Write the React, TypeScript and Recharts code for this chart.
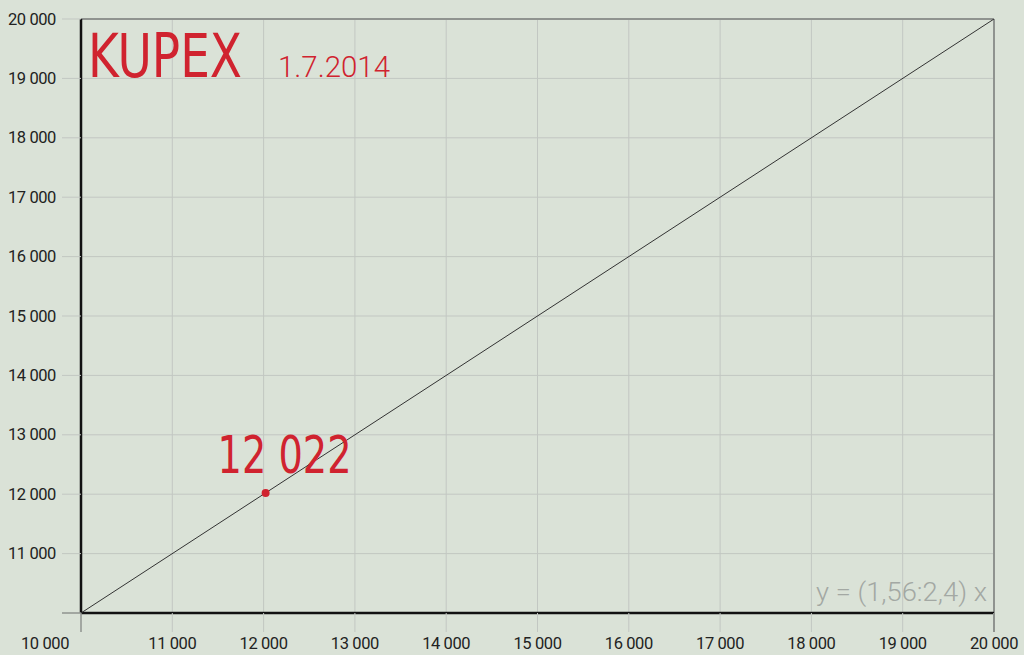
import React from "react";
import {
  ComposedChart,
  Line,
  XAxis,
  YAxis,
  CartesianGrid,
  ReferenceLine,
  ReferenceDot,
  Customized,
} from "recharts";

// ---- data ----
const xTicks = [10000, 11000, 12000, 13000, 14000, 15000, 16000, 17000, 18000, 19000, 20000];
const yTicks = [10000, 11000, 12000, 13000, 14000, 15000, 16000, 17000, 18000, 19000, 20000];
const lineX = [10000, 20000];
const lineY = [10000, 20000];
const pointX = 12022;
const pointY = 12022;
const pointLabel = "12 022";
const titleText = "KUPEX";
const dateText = "1.7.2014";
const formulaText = "y = (1,56:2,4) x";

const lineData = lineX.map((x, i) => ({ x, y: lineY[i] }));

const BG = "#dae2d7";
const RED = "#d0232f";
const GRID = "#c2c7c2";
const DARK_GRID = "#8f938f";
const TICK_FONT = "Roboto, 'Noto Sans', sans-serif";

const fmt = (v: number) => String(v).replace(/\B(?=(\d{3})+(?!\d))/g, " ");

const XTick = (props: any) => {
  const { x, y, payload } = props;
  const v = payload.value;
  const isOrigin = v === xTicks[0];
  const isEnd = v === xTicks[xTicks.length - 1];
  return (
    <g>
      <line
        x1={x}
        y1={y}
        x2={x}
        y2={y + 19}
        stroke={isOrigin || isEnd ? DARK_GRID : GRID}
        strokeWidth={isOrigin ? 1.5 : isEnd ? 2 : 1}
      />
      <text
        x={isOrigin ? x - 36 : x}
        y={y + 36}
        textAnchor="middle"
        fontFamily={TICK_FONT}
        fontSize={16.5}
        letterSpacing={-0.4}
        fill="#222"
      >
        {fmt(v)}
      </text>
    </g>
  );
};

const YTick = (props: any) => {
  const { x, y, payload } = props;
  const v = payload.value;
  const isOrigin = v === yTicks[0];
  return (
    <g>
      <line
        x1={x - 19}
        y1={y}
        x2={x}
        y2={y}
        stroke={isOrigin ? DARK_GRID : GRID}
        strokeWidth={isOrigin ? 1.5 : 1}
      />
      {!isOrigin && (
        <text
          x={x - 25}
          y={y + 5.5}
          textAnchor="end"
          fontFamily={TICK_FONT}
          fontSize={16.5}
          letterSpacing={-0.4}
          fill="#222"
        >
          {fmt(v)}
        </text>
      )}
    </g>
  );
};

const PointLabel = (props: any) => {
  const vb = props.viewBox || {};
  const cx = vb.x + (vb.width || 0) / 2;
  const cy = vb.y + (vb.height || 0) / 2;
  return (
    <text
      x={cx - 48}
      y={cy - 20}
      fontFamily="'DejaVu Sans Condensed', 'DejaVu Sans', sans-serif"
      fontSize={52}
      fill={RED}
      textLength={134}
      lengthAdjust="spacingAndGlyphs"
    >
      {pointLabel}
    </text>
  );
};

const Overlay = () => (
  <g>
    <text
      x={88}
      y={77}
      fontFamily="'DejaVu Sans Condensed', 'DejaVu Sans', sans-serif"
      fontSize={60}
      fill={RED}
      textLength={154}
      lengthAdjust="spacingAndGlyphs"
    >
      {titleText}
    </text>
    <text
      x={278}
      y={77}
      fontFamily="Roboto, 'Open Sans', sans-serif"
      fontWeight={300}
      fontSize={30}
      fill={RED}
      textLength={112}
      lengthAdjust="spacingAndGlyphs"
    >
      {dateText}
    </text>
    <text
      x={816}
      y={601}
      fontFamily="Roboto, 'Open Sans', sans-serif"
      fontWeight={300}
      fontSize={26}
      fill="#a3a8a3"
      textLength={171}
      lengthAdjust="spacingAndGlyphs"
    >
      {formulaText}
    </text>
  </g>
);

export default function App() {
  return (
    <div
      style={{
        position: "fixed",
        left: 0,
        top: 0,
        width: 1024,
        height: 655,
        background: BG,
      }}
    >
      <ComposedChart
        width={1024}
        height={655}
        data={lineData}
        margin={{ top: 19, right: 30, left: 0, bottom: 0 }}
      >
        <CartesianGrid stroke={GRID} strokeWidth={1} />
        <XAxis
          type="number"
          dataKey="x"
          domain={[xTicks[0], xTicks[xTicks.length - 1]]}
          ticks={xTicks}
          interval={0}
          height={42}
          tickSize={0}
          tickMargin={0}
          tickLine={false}
          axisLine={false}
          tick={<XTick />}
          allowDataOverflow
        />
        <YAxis
          type="number"
          dataKey="y"
          domain={[yTicks[0], yTicks[yTicks.length - 1]]}
          ticks={yTicks}
          interval={0}
          width={81}
          tickSize={0}
          tickMargin={0}
          tickLine={false}
          axisLine={false}
          tick={<YTick />}
          allowDataOverflow
        />
        <ReferenceLine y={yTicks[yTicks.length - 1]} stroke={DARK_GRID} strokeWidth={2} />
        <ReferenceLine x={xTicks[xTicks.length - 1]} stroke={DARK_GRID} strokeWidth={2} />
        <ReferenceLine x={xTicks[0]} stroke="#111" strokeWidth={2.5} />
        <ReferenceLine y={yTicks[0]} stroke="#111" strokeWidth={2.5} />
        <Line
          type="linear"
          dataKey="y"
          stroke="#333"
          strokeWidth={1}
          dot={false}
          activeDot={false}
          isAnimationActive={false}
        />
        <ReferenceDot
          x={pointX}
          y={pointY}
          r={4}
          fill={RED}
          stroke="none"
          label={<PointLabel />}
        />
        <Customized component={Overlay} />
      </ComposedChart>
    </div>
  );
}
